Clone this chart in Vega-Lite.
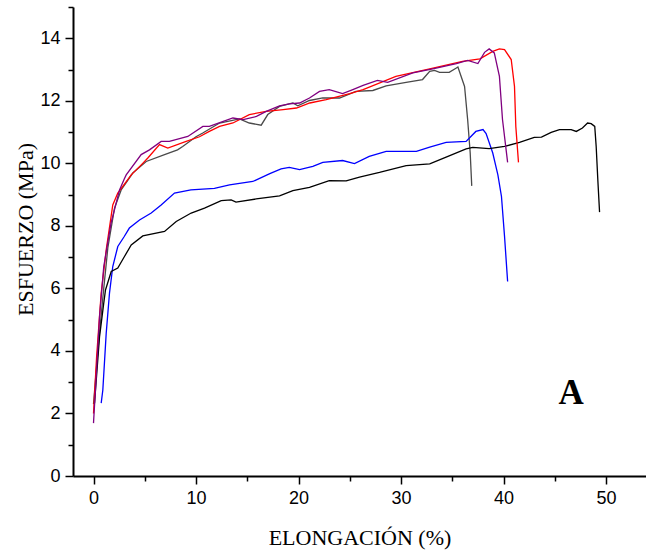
{
  "$schema": "https://vega.github.io/schema/vega-lite/v6.json",
  "autosize": "none",
  "width": 573,
  "height": 469,
  "padding": {"left": 73, "top": 7, "right": 0, "bottom": 77},
  "background": "white",
  "config": {"view": {"stroke": null}},
  "datasets": {
    "curves": [
      {"s": "g", "x": 0, "y": 2.3}, {"s": "g", "x": 0.3, "y": 3.5}, {"s": "g", "x": 0.59, "y": 4.6}, {"s": "g", "x": 1.0, "y": 6.0}, {"s": "g", "x": 1.4, "y": 7.3}, {"s": "g", "x": 2.05, "y": 8.57}, {"s": "g", "x": 2.7, "y": 9.15}, {"s": "g", "x": 3.83, "y": 9.69}, {"s": "g", "x": 5.14, "y": 10.06}, {"s": "g", "x": 6.93, "y": 10.28}, {"s": "g", "x": 8.2, "y": 10.43}, {"s": "g", "x": 8.7, "y": 10.54}, {"s": "g", "x": 10.0, "y": 10.85}, {"s": "g", "x": 10.66, "y": 10.97}, {"s": "g", "x": 12.3, "y": 11.29}, {"s": "g", "x": 14.24, "y": 11.42}, {"s": "g", "x": 15.2, "y": 11.29}, {"s": "g", "x": 16.36, "y": 11.22}, {"s": "g", "x": 17.0, "y": 11.56}, {"s": "g", "x": 18.15, "y": 11.82}, {"s": "g", "x": 19.45, "y": 11.93}, {"s": "g", "x": 19.93, "y": 11.84}, {"s": "g", "x": 21.07, "y": 12.01}, {"s": "g", "x": 22.37, "y": 12.09}, {"s": "g", "x": 24.0, "y": 12.09}, {"s": "g", "x": 25.6, "y": 12.3}, {"s": "g", "x": 27.25, "y": 12.33}, {"s": "g", "x": 28.55, "y": 12.48}, {"s": "g", "x": 30.5, "y": 12.59}, {"s": "g", "x": 32.1, "y": 12.68}, {"s": "g", "x": 32.8, "y": 12.94}, {"s": "g", "x": 33.27, "y": 12.97}, {"s": "g", "x": 33.76, "y": 12.91}, {"s": "g", "x": 34.7, "y": 12.91}, {"s": "g", "x": 35.4, "y": 13.05}, {"s": "g", "x": 35.55, "y": 13.08}, {"s": "g", "x": 36.2, "y": 12.46}, {"s": "g", "x": 36.5, "y": 11.4}, {"s": "g", "x": 36.75, "y": 10.33}, {"s": "g", "x": 36.9, "y": 9.28},

      {"s": "b", "x": 0.75, "y": 2.33}, {"s": "b", "x": 0.91, "y": 2.75}, {"s": "b", "x": 1.24, "y": 4.57}, {"s": "b", "x": 1.56, "y": 5.85}, {"s": "b", "x": 1.88, "y": 6.7}, {"s": "b", "x": 2.37, "y": 7.34}, {"s": "b", "x": 3.0, "y": 7.66}, {"s": "b", "x": 3.5, "y": 7.93}, {"s": "b", "x": 4.49, "y": 8.19}, {"s": "b", "x": 5.63, "y": 8.41}, {"s": "b", "x": 6.6, "y": 8.67}, {"s": "b", "x": 7.9, "y": 9.05}, {"s": "b", "x": 9.5, "y": 9.15}, {"s": "b", "x": 11.8, "y": 9.2}, {"s": "b", "x": 13.27, "y": 9.31}, {"s": "b", "x": 15.54, "y": 9.42}, {"s": "b", "x": 17.2, "y": 9.67}, {"s": "b", "x": 18.3, "y": 9.82}, {"s": "b", "x": 19.1, "y": 9.87}, {"s": "b", "x": 20.1, "y": 9.8}, {"s": "b", "x": 21.4, "y": 9.9}, {"s": "b", "x": 22.37, "y": 10.03}, {"s": "b", "x": 24.3, "y": 10.09}, {"s": "b", "x": 25.46, "y": 9.99}, {"s": "b", "x": 26.9, "y": 10.22}, {"s": "b", "x": 28.55, "y": 10.38}, {"s": "b", "x": 31.5, "y": 10.38}, {"s": "b", "x": 32.8, "y": 10.52}, {"s": "b", "x": 34.4, "y": 10.67}, {"s": "b", "x": 36.35, "y": 10.7}, {"s": "b", "x": 37.3, "y": 11.02}, {"s": "b", "x": 38.0, "y": 11.08}, {"s": "b", "x": 38.3, "y": 10.95}, {"s": "b", "x": 38.95, "y": 10.33}, {"s": "b", "x": 39.45, "y": 9.63}, {"s": "b", "x": 39.8, "y": 8.94}, {"s": "b", "x": 40.1, "y": 7.66}, {"s": "b", "x": 40.4, "y": 6.22},

      {"s": "k", "x": 0.1, "y": 2.33}, {"s": "k", "x": 0.59, "y": 4.46}, {"s": "k", "x": 1.0, "y": 5.53}, {"s": "k", "x": 1.17, "y": 5.95}, {"s": "k", "x": 1.73, "y": 6.54}, {"s": "k", "x": 2.37, "y": 6.65}, {"s": "k", "x": 3.02, "y": 7.02}, {"s": "k", "x": 3.68, "y": 7.39}, {"s": "k", "x": 4.81, "y": 7.68}, {"s": "k", "x": 6.93, "y": 7.82}, {"s": "k", "x": 8.07, "y": 8.14}, {"s": "k", "x": 9.53, "y": 8.41}, {"s": "k", "x": 10.83, "y": 8.57}, {"s": "k", "x": 12.46, "y": 8.81}, {"s": "k", "x": 13.43, "y": 8.83}, {"s": "k", "x": 13.9, "y": 8.76}, {"s": "k", "x": 15.87, "y": 8.86}, {"s": "k", "x": 18.15, "y": 8.96}, {"s": "k", "x": 19.45, "y": 9.13}, {"s": "k", "x": 21.07, "y": 9.23}, {"s": "k", "x": 23.0, "y": 9.45}, {"s": "k", "x": 24.65, "y": 9.44}, {"s": "k", "x": 25.95, "y": 9.56}, {"s": "k", "x": 27.9, "y": 9.71}, {"s": "k", "x": 30.5, "y": 9.93}, {"s": "k", "x": 32.8, "y": 9.98}, {"s": "k", "x": 34.4, "y": 10.2}, {"s": "k", "x": 36.35, "y": 10.46}, {"s": "k", "x": 37.0, "y": 10.51}, {"s": "k", "x": 38.6, "y": 10.47}, {"s": "k", "x": 40.1, "y": 10.54}, {"s": "k", "x": 41.56, "y": 10.67}, {"s": "k", "x": 43.0, "y": 10.83}, {"s": "k", "x": 43.7, "y": 10.84}, {"s": "k", "x": 44.65, "y": 10.99}, {"s": "k", "x": 45.46, "y": 11.08}, {"s": "k", "x": 46.6, "y": 11.08}, {"s": "k", "x": 47.1, "y": 11.02}, {"s": "k", "x": 47.7, "y": 11.13}, {"s": "k", "x": 48.2, "y": 11.29}, {"s": "k", "x": 48.55, "y": 11.27}, {"s": "k", "x": 48.9, "y": 11.18}, {"s": "k", "x": 49.04, "y": 10.54}, {"s": "k", "x": 49.2, "y": 9.47}, {"s": "k", "x": 49.37, "y": 8.44},

      {"s": "r", "x": 0, "y": 2.0}, {"s": "r", "x": 0.3, "y": 3.8}, {"s": "r", "x": 0.75, "y": 5.85}, {"s": "r", "x": 1.24, "y": 7.23}, {"s": "r", "x": 1.88, "y": 8.67}, {"s": "r", "x": 2.37, "y": 9.05}, {"s": "r", "x": 3.68, "y": 9.63}, {"s": "r", "x": 4.8, "y": 10.0}, {"s": "r", "x": 5.3, "y": 10.17}, {"s": "r", "x": 6.44, "y": 10.6}, {"s": "r", "x": 7.25, "y": 10.49}, {"s": "r", "x": 9.04, "y": 10.7}, {"s": "r", "x": 10.34, "y": 10.85}, {"s": "r", "x": 11.3, "y": 11.02}, {"s": "r", "x": 12.3, "y": 11.18}, {"s": "r", "x": 13.6, "y": 11.29}, {"s": "r", "x": 15.2, "y": 11.56}, {"s": "r", "x": 16.85, "y": 11.66}, {"s": "r", "x": 18.5, "y": 11.72}, {"s": "r", "x": 19.8, "y": 11.77}, {"s": "r", "x": 21.1, "y": 11.93}, {"s": "r", "x": 22.7, "y": 12.04}, {"s": "r", "x": 25.0, "y": 12.23}, {"s": "r", "x": 26.3, "y": 12.36}, {"s": "r", "x": 29.5, "y": 12.78}, {"s": "r", "x": 32.8, "y": 13.02}, {"s": "r", "x": 36.0, "y": 13.26}, {"s": "r", "x": 37.7, "y": 13.34}, {"s": "r", "x": 38.95, "y": 13.58}, {"s": "r", "x": 39.6, "y": 13.66}, {"s": "r", "x": 40.1, "y": 13.64}, {"s": "r", "x": 40.75, "y": 13.32}, {"s": "r", "x": 41.07, "y": 12.46}, {"s": "r", "x": 41.2, "y": 11.18}, {"s": "r", "x": 41.46, "y": 10.03},

      {"s": "p", "x": 0, "y": 1.69}, {"s": "p", "x": 0.3, "y": 3.4}, {"s": "p", "x": 0.59, "y": 5.1}, {"s": "p", "x": 1.0, "y": 6.7}, {"s": "p", "x": 1.72, "y": 8.1}, {"s": "p", "x": 2.54, "y": 9.15}, {"s": "p", "x": 3.0, "y": 9.5}, {"s": "p", "x": 3.19, "y": 9.63}, {"s": "p", "x": 4.65, "y": 10.28}, {"s": "p", "x": 5.46, "y": 10.43}, {"s": "p", "x": 6.6, "y": 10.7}, {"s": "p", "x": 7.4, "y": 10.7}, {"s": "p", "x": 9.2, "y": 10.86}, {"s": "p", "x": 10.67, "y": 11.18}, {"s": "p", "x": 11.3, "y": 11.18}, {"s": "p", "x": 13.6, "y": 11.45}, {"s": "p", "x": 14.6, "y": 11.4}, {"s": "p", "x": 15.9, "y": 11.5}, {"s": "p", "x": 16.85, "y": 11.66}, {"s": "p", "x": 18.15, "y": 11.84}, {"s": "p", "x": 19.1, "y": 11.9}, {"s": "p", "x": 20.1, "y": 11.93}, {"s": "p", "x": 21.07, "y": 12.09}, {"s": "p", "x": 22.05, "y": 12.3}, {"s": "p", "x": 23.0, "y": 12.36}, {"s": "p", "x": 24.3, "y": 12.23}, {"s": "p", "x": 25.3, "y": 12.36}, {"s": "p", "x": 26.3, "y": 12.49}, {"s": "p", "x": 27.7, "y": 12.65}, {"s": "p", "x": 28.7, "y": 12.59}, {"s": "p", "x": 31.15, "y": 12.89}, {"s": "p", "x": 33.1, "y": 13.02}, {"s": "p", "x": 35.4, "y": 13.19}, {"s": "p", "x": 36.5, "y": 13.29}, {"s": "p", "x": 37.5, "y": 13.19}, {"s": "p", "x": 38.15, "y": 13.55}, {"s": "p", "x": 38.6, "y": 13.66}, {"s": "p", "x": 39.1, "y": 13.53}, {"s": "p", "x": 39.6, "y": 12.78}, {"s": "p", "x": 39.9, "y": 11.4}, {"s": "p", "x": 40.4, "y": 10.03}
    ],
    "label": [{"x": 46.6, "y": 2.65, "t": "A"}]
  },
  "resolve": {"axis": {"x": "independent", "y": "independent"}},
  "layer": [
    {
      "data": {"name": "label"},
      "mark": {"type": "text", "font": "Liberation Serif", "fontSize": 35, "fontWeight": "bold", "color": "black", "align": "center", "baseline": "middle"},
      "encoding": {
        "x": {
          "field": "x", "type": "quantitative",
          "scale": {"domain": [-2, 53.9], "nice": false, "zero": false},
          "axis": {
            "orient": "bottom",
            "values": [5, 15, 25, 35, 45],
            "labels": false, "domain": false, "grid": false,
            "tickSize": 5, "tickColor": "black", "tickWidth": 1.5,
            "title": null
          }
        },
        "y": {
          "field": "y", "type": "quantitative",
          "scale": {"domain": [0, 15], "nice": false, "zero": false},
          "axis": {
            "orient": "left",
            "values": [1, 3, 5, 7, 9, 11, 13, 15],
            "labels": false, "domain": false, "grid": false,
            "tickSize": 5, "tickColor": "black", "tickWidth": 1.5,
            "title": null
          }
        },
        "text": {"field": "t"}
      }
    },
    {
      "data": {"name": "curves"},
      "mark": {"type": "line", "strokeWidth": 1.3, "clip": true},
      "encoding": {
        "x": {
          "field": "x", "type": "quantitative",
          "axis": {
            "orient": "bottom",
            "values": [0, 10, 20, 30, 40, 50],
            "tickSize": 8,
            "grid": false,
            "domainColor": "black", "domainWidth": 2,
            "tickColor": "black", "tickWidth": 1.5,
            "labelFont": "Liberation Sans", "labelFontSize": 18, "labelColor": "black",
            "labelPadding": 5,
            "title": "ELONGACIÓN (%)",
            "titleFont": "Liberation Serif", "titleFontSize": 22, "titleFontWeight": "normal", "titleColor": "black",
            "titleBaseline": "middle", "titleY": 61
          }
        },
        "y": {
          "field": "y", "type": "quantitative",
          "axis": {
            "orient": "left",
            "values": [0, 2, 4, 6, 8, 10, 12, 14],
            "tickSize": 8,
            "grid": false,
            "domainColor": "black", "domainWidth": 2,
            "tickColor": "black", "tickWidth": 1.5,
            "labelFont": "Liberation Sans", "labelFontSize": 18, "labelColor": "black",
            "labelPadding": 5,
            "title": "ESFUERZO (MPa)",
            "titleFont": "Liberation Serif", "titleFontSize": 22, "titleFontWeight": "normal", "titleColor": "black",
            "titleBaseline": "middle", "titleX": -48, "titleY": 222
          }
        },
        "color": {
          "field": "s", "type": "nominal",
          "scale": {"domain": ["g", "b", "k", "r", "p"], "range": ["#4a4a4a", "#0000ff", "#000000", "#ff0000", "#800080"]},
          "legend": null
        },
        "order": {"value": null}
      }
    }
  ]
}
